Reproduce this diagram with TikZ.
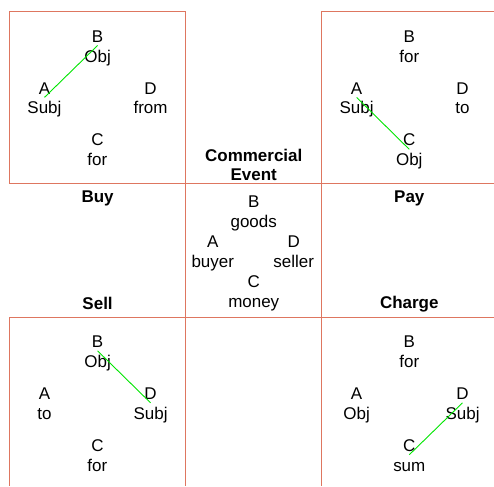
\documentclass[tikz,border=0pt]{standalone}
\usepackage{fontspec}
\setmainfont{Liberation Sans}
\usetikzlibrary{positioning}
\definecolor{salmonline}{RGB}{222,118,96}
\definecolor{linkgreen}{RGB}{0,230,0}
\newcommand{\feslot}[2]{\rule{0pt}{17pt}#1\\#2\rule[-3.8pt]{0pt}{3.8pt}}
\tikzset{framerule/.style={color=salmonline, line width=1pt}}

\begin{document}
\begin{tikzpicture}[x=1pt, y=-1pt,
    role/.style={align=center, inner sep=0pt, font=\fontsize{17}{20}\selectfont},
    title/.style={anchor=base, inner sep=0pt, font=\fontsize{17}{20}\selectfont\bfseries},
    link/.style={draw=linkgreen, line width=0.9pt}
]
    \fill [white] (0,0) rectangle (494,486);

    % Frame lines
    \draw [framerule] (9.5,183.5) rectangle (185.5,11.5);
    \draw [framerule] (185.5,183.5) -- (185.5,486);
    \draw [framerule] (321.5,486) -- (321.5,11.5) -- (494,11.5);
    \draw [framerule] (185.5,183.5) -- (494,183.5);
    \draw [framerule] (494,317.5) -- (9.5,317.5) -- (9.5,486);

    % Buy
    \node (buyB) [role] at (97.7,45.5) {\feslot{B}{Obj}};
    \node (buyA) [role] at (44.5,97.5) {\feslot{A}{Subj}};
    \node (buyD) [role] at (150.7,97.5) {\feslot{D}{from}};
    \node (buyC) [role] at (97.5,149.5) {\feslot{C}{for}};
    \node (buy) [title] at (97.7,202.8) {Buy};

    % Pay
    \node (payB) [role] at (409.7,45.5) {\feslot{B}{for}};
    \node (payA) [role] at (357,97.5) {\feslot{A}{Subj}};
    \node (payD) [role] at (463,97.5) {\feslot{D}{to}};
    \node (payC) [role] at (409.7,149.5) {\feslot{C}{Obj}};
    \node (pay) [title] at (409.7,202.8) {Pay};

    % Commercial Event
    \node (event) [role, font=\fontsize{17}{18.5}\selectfont\bfseries] at (254,164.6) {\feslot{Commercial}{Event}};
    \node (evB) [role] at (254,211.2) {\feslot{B}{goods}};
    \node (evA) [role] at (213,251.2) {\feslot{A}{buyer}};
    \node (evD) [role] at (294,251.2) {\feslot{D}{seller}};
    \node (evC) [role] at (254,291.2) {\feslot{C}{money}};

    % Sell
    \node (sell) [title] at (97.7,309.4) {Sell};
    \node (sellB) [role] at (97.7,351.2) {\feslot{B}{Obj}};
    \node (sellA) [role] at (44.5,403.2) {\feslot{A}{to}};
    \node (sellD) [role] at (150.7,403.2) {\feslot{D}{Subj}};
    \node (sellC) [role] at (97.5,455.2) {\feslot{C}{for}};

    % Charge
    \node (charge) [title] at (409.7,308.4) {Charge};
    \node (chargeB) [role] at (409.7,351.2) {\feslot{B}{for}};
    \node (chargeA) [role] at (357,403.2) {\feslot{A}{Obj}};
    \node (chargeD) [role] at (463,403.2) {\feslot{D}{Subj}};
    \node (chargeC) [role] at (409.7,455.2) {\feslot{C}{sum}};

    % Subject-object links
    \draw [link] (buyA.center) -- (buyB.center);
    \draw [link] (payA.center) -- (payC.center);
    \draw [link] (sellB.center) -- (sellD.center);
    \draw [link] (chargeC.center) -- (chargeD.center);
\end{tikzpicture}
\end{document}
